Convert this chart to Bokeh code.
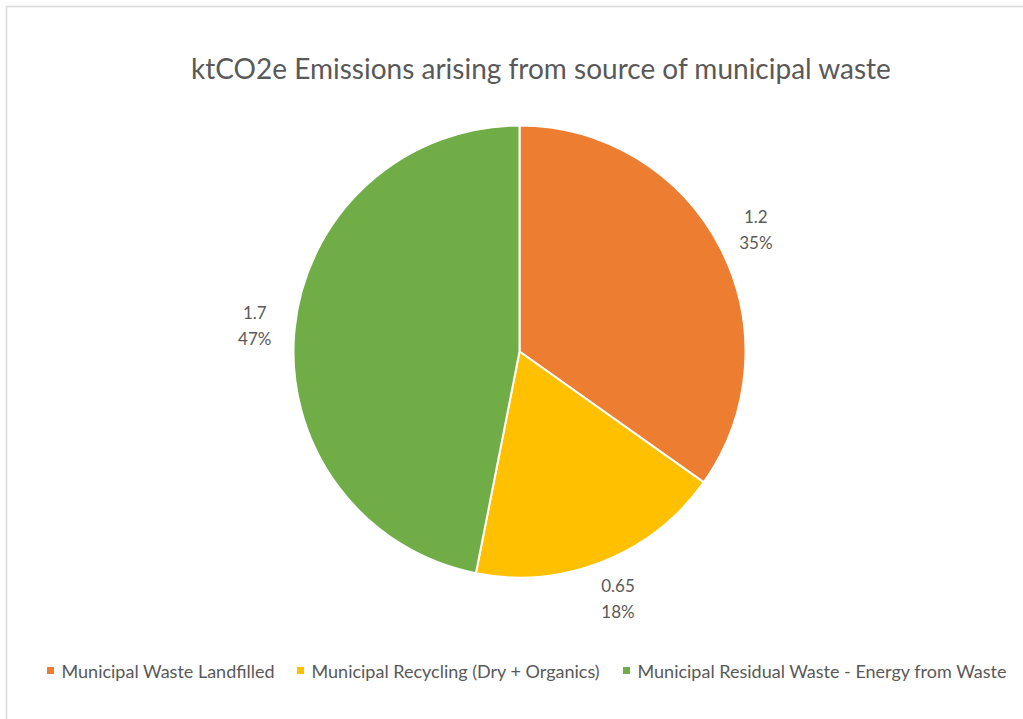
import math
from bokeh.plotting import figure
from bokeh.models import Range1d
from bokeh.core.properties import value
from bokeh.embed import file_html
from bokeh.resources import INLINE

# ---- data ----
categories = ["Municipal Waste Landfilled",
              "Municipal Recycling (Dry + Organics)",
              "Municipal Residual Waste - Energy from Waste"]
values = [1.24, 0.65, 1.67]
colors = ["#ED7D31", "#FFC000", "#70AD47"]
title_text = "ktCO2e Emissions arising from source of municipal waste"

# ---- layout ----
W, H = 1023, 719
CX, CY_SCREEN = 519, 351
R = 226
LABEL_R = 266
LEGEND_X = [50, 300, 626]
LEGEND_Y_SCREEN = 670
FONT = "Lato"
TXT = "#595959"

def sy(y):
    return H - y

p = figure(width=W, height=H, output_backend="svg", toolbar_location=None,
           x_range=Range1d(0, W), y_range=Range1d(0, H), min_border=0)
p.axis.visible = False
p.grid.visible = False
p.outline_line_color = None
p.background_fill_color = "white"
p.border_fill_color = "white"

# chart border (top and left visible)
p.quad(left=6, right=W + 20, top=sy(6), bottom=-20, fill_color=None,
       line_color="#D9D9D9", line_width=1.5)

total = sum(values)
cum = 0.0
for v, c in zip(values, colors):
    a0 = math.pi / 2 - 2 * math.pi * cum / total
    a1 = math.pi / 2 - 2 * math.pi * (cum + v) / total
    p.wedge(x=CX, y=sy(CY_SCREEN), radius=R, start_angle=a0, end_angle=a1,
            direction="clock", fill_color=c, line_color="white", line_width=2)
    mid = math.pi / 2 - 2 * math.pi * (cum + v / 2) / total
    lx = CX + LABEL_R * math.cos(mid)
    ly = sy(CY_SCREEN) + LABEL_R * math.sin(mid)
    pct = "{:.0f}%".format(100 * v / total)
    p.text(x=[lx], y=[ly + 13], text=["{:.2g}".format(v)], text_align="center",
           text_baseline="middle", text_font=value(FONT), text_font_size="17px",
           text_color=TXT)
    p.text(x=[lx], y=[ly - 13], text=[pct], text_align="center",
           text_baseline="middle", text_font=value(FONT), text_font_size="17px",
           text_color=TXT)
    cum += v

# title
p.text(x=[541], y=[sy(67)], text=[title_text], text_align="center",
       text_baseline="middle", text_font=value(FONT), text_font_size="28px",
       text_color=TXT)

# legend
for lxp, cat, c in zip(LEGEND_X, categories, colors):
    p.scatter(x=[lxp], y=[sy(LEGEND_Y_SCREEN)], marker="square", size=7,
              fill_color=c, line_color=None)
    p.text(x=[lxp + 11], y=[sy(LEGEND_Y_SCREEN)], text=[cat], text_align="left",
           text_baseline="middle", text_font=value(FONT), text_font_size="18px",
           text_color=TXT)

open("out.html", "w").write(file_html(p, INLINE))
